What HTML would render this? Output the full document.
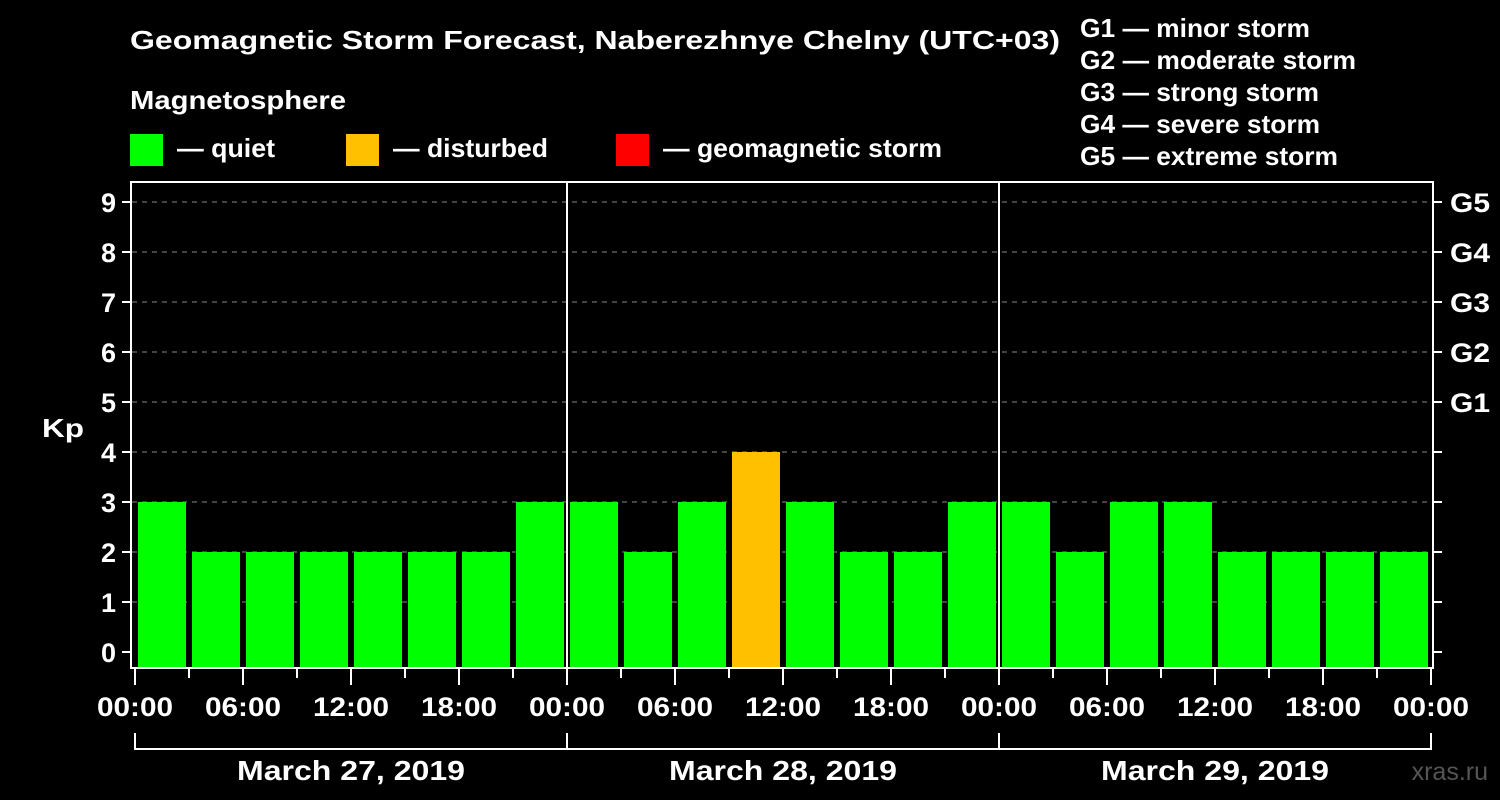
<!DOCTYPE html>
<html><head><meta charset="utf-8"><style>
body{margin:0;background:#000;}
svg{display:block;font-family:"Liberation Sans",sans-serif;font-weight:bold;}
</style></head><body>
<svg id="c" width="1500" height="800" xmlns="http://www.w3.org/2000/svg">
<rect width="1500" height="800" fill="#000"/>
<text x="130" y="49" fill="#fff" font-size="26" textLength="930" lengthAdjust="spacingAndGlyphs">Geomagnetic Storm Forecast, Naberezhnye Chelny (UTC+03)</text>
<text x="130" y="109" fill="#fff" font-size="26" textLength="216" lengthAdjust="spacingAndGlyphs">Magnetosphere</text>
<g><rect x="130" y="134" width="33" height="32" fill="#00ff00"/><text x="177" y="157" fill="#fff" font-size="26" textLength="98" lengthAdjust="spacingAndGlyphs">— quiet</text></g>
<g><rect x="346" y="134" width="33" height="32" fill="#ffc000"/><text x="393" y="157" fill="#fff" font-size="26" textLength="155" lengthAdjust="spacingAndGlyphs">— disturbed</text></g>
<g><rect x="616" y="134" width="33" height="32" fill="#ff0000"/><text x="663" y="157" fill="#fff" font-size="26" textLength="279" lengthAdjust="spacingAndGlyphs">— geomagnetic storm</text></g>
<g fill="#fff" font-size="26" lengthAdjust="spacingAndGlyphs">
<text x="1080" y="37" textLength="230" lengthAdjust="spacingAndGlyphs">G1 — minor storm</text>
<text x="1080" y="69" textLength="276" lengthAdjust="spacingAndGlyphs">G2 — moderate storm</text>
<text x="1080" y="101" textLength="239" lengthAdjust="spacingAndGlyphs">G3 — strong storm</text>
<text x="1080" y="133" textLength="240" lengthAdjust="spacingAndGlyphs">G4 — severe storm</text>
<text x="1080" y="165" textLength="258" lengthAdjust="spacingAndGlyphs">G5 — extreme storm</text>
</g>
<text x="42" y="437" fill="#fff" font-size="26" textLength="42" lengthAdjust="spacingAndGlyphs">Kp</text>
<text x="1488" y="780" fill="#555" font-size="25" text-anchor="end" font-weight="normal">xras.ru</text>
<g id="plot"></g>
</svg>
<script>
const kpValues=[3,2,2,2,2,2,2,3, 3,2,3,4,3,2,2,3, 3,2,3,3,2,2,2,2];
const yTicks=[0,1,2,3,4,5,6,7,8,9];
const gLabels=["G1","G2","G3","G4","G5"];
const gLevels=[5,6,7,8,9];
const hourLabels=["00:00","06:00","12:00","18:00"];
const dayLabels=["March 27, 2019","March 28, 2019","March 29, 2019"];
const NS="http://www.w3.org/2000/svg";
const plotG=document.getElementById('plot');
const x0=135,slot=54,plotTop=182,plotBottom=668;
const yS=v=>652-v*50;
const xS=i=>x0+i*slot;
function mk(t,a){const e=document.createElementNS(NS,t);for(const k in a)e.setAttribute(k,a[k]);plotG.appendChild(e);return e;}
yTicks.forEach(v=>{
 if(v>0){const g=mk('line',{x1:132,x2:1432,y1:yS(v),y2:yS(v),stroke:'#888','stroke-dasharray':'5,5','stroke-width':1});
 
 }
 mk('line',{x1:122,x2:131,y1:yS(v),y2:yS(v),stroke:'#fff','stroke-width':2});
 mk('line',{x1:1433,x2:1442,y1:yS(v),y2:yS(v),stroke:'#fff','stroke-width':2});
 const t=mk('text',{x:116,y:yS(v)+10,fill:'#fff','font-size':27,'text-anchor':'end'});t.textContent=v;
 
 
});
gLabels.forEach((g,i)=>{const t=mk('text',{x:1450,y:yS(gLevels[i])+10,fill:'#fff','font-size':27,textLength:40,lengthAdjust:'spacingAndGlyphs'});t.textContent=g;
 
 });
kpValues.forEach((v,i)=>{
 const col=v>=5?'#ff0000':(v>=4?'#ffc000':'#00ff00');
 const r=mk('rect',{x:xS(i)+3,width:48,y:yS(v),height:plotBottom-yS(v),fill:col});
 
 
});
const f=mk('rect',{x:131,y:plotTop,width:1302,height:plotBottom-plotTop,fill:'none',stroke:'#fff','stroke-width':2});


for(let d=1;d<dayLabels.length;d++){mk('line',{x1:xS(d*8),x2:xS(d*8),y1:plotTop,y2:plotBottom,stroke:'#fff','stroke-width':2});}
for(let i=0;i<=kpValues.length;i++){
 const major=i%2===0;
 mk('line',{x1:xS(i),x2:xS(i),y1:plotBottom,y2:major?685:678,stroke:'#fff','stroke-width':2});
 if(major){const t=mk('text',{x:xS(i),y:716,fill:'#fff','font-size':27,'text-anchor':'middle',textLength:76,lengthAdjust:'spacingAndGlyphs'});
 t.textContent=hourLabels[(i/2)%4];
 
 }
}
mk('line',{x1:xS(0),x2:xS(24),y1:749,y2:749,stroke:'#fff','stroke-width':2});
for(let d=0;d<=dayLabels.length;d++)mk('line',{x1:xS(d*8),x2:xS(d*8),y1:733,y2:750,stroke:'#fff','stroke-width':2});
dayLabels.forEach((s,d)=>{const t=mk('text',{x:xS(d*8+4),y:780,fill:'#fff','font-size':28,'text-anchor':'middle',textLength:228,lengthAdjust:'spacingAndGlyphs'});t.textContent=s;
 
 });
</script>
</body></html>
